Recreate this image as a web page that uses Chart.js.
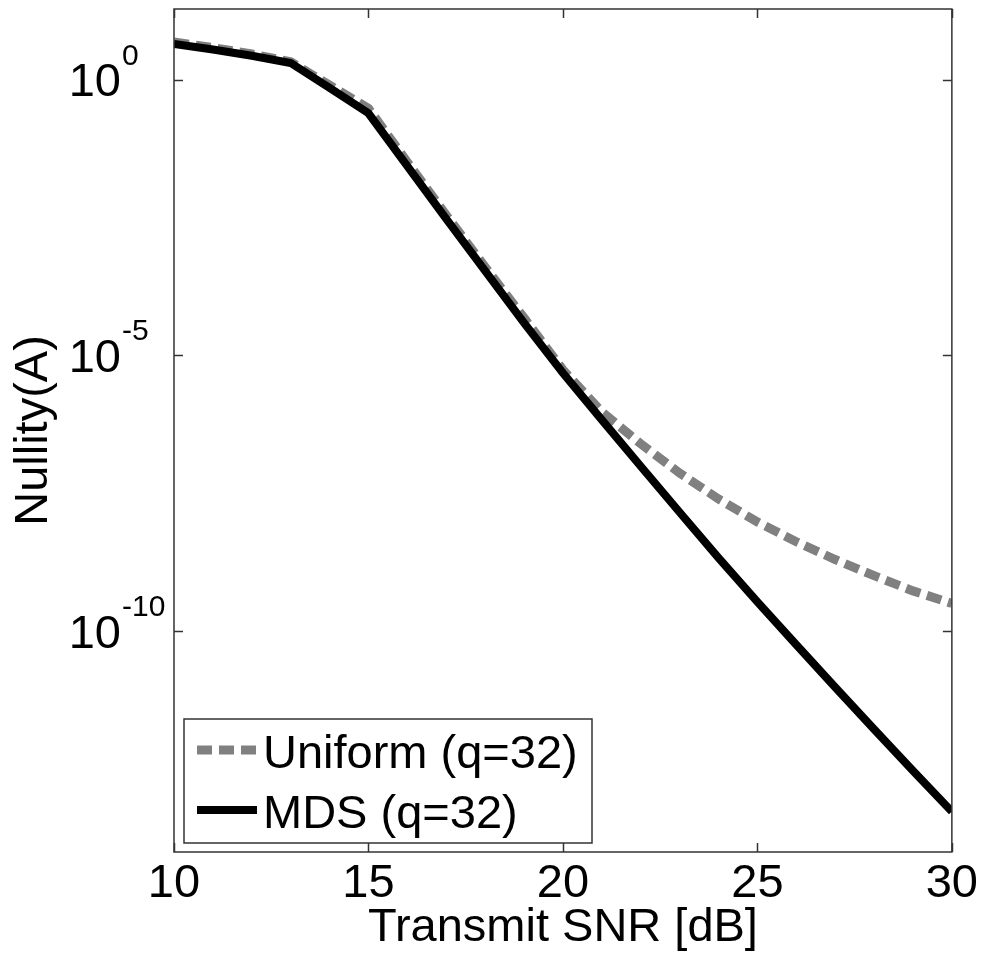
<!DOCTYPE html>
<html>
<head>
<meta charset="utf-8">
<title>Nullity(A) vs Transmit SNR</title>
<script src="https://cdn.jsdelivr.net/npm/chart.js@4.4.1/dist/chart.umd.min.js"></script>
<style>
  html, body { margin: 0; padding: 0; background: #ffffff; }
  #wrap { width: 982px; height: 956px; }
</style>
</head>
<body>
<div id="wrap"><canvas id="c" width="982" height="956"></canvas></div>
<script>
// Transmit SNR grid (dB)
const snrDb = [10, 11, 12, 13, 14, 15, 16, 17, 18, 19, 20, 21, 22, 23, 24, 25, 26, 27, 28, 29, 30];

// Nullity(A) for the uniform quantizer, q = 32
const uniformQ32 = [4.8, 3.8, 2.9, 2.1, 0.79, 0.30, 3.2e-2, 3.5e-3, 4.0e-4, 4.8e-5, 5.5e-6,
                    9.5e-7, 2.5e-7, 7.4e-8, 2.5e-8, 9.6e-9, 4.2e-9, 2.0e-9, 1.02e-9, 5.4e-10, 3.2e-10];

// Nullity(A) for the MDS design, q = 32
const mdsQ32 = [4.4, 3.5, 2.7, 2.0, 0.71, 0.245, 2.7e-2, 3.0e-3, 3.4e-4, 3.9e-5, 4.8e-6,
                6.8e-7, 9.8e-8, 1.44e-8, 2.14e-9, 3.4e-10, 5.7e-11, 9.7e-12, 1.68e-12, 2.97e-13, 5.4e-14];

const seriesNames = ['Uniform (q=32)', 'MDS (q=32)'];

// Axis ticks
const xTickValues = [10, 15, 20, 25, 30];
const yTickValues = [1e0, 1e-5, 1e-10];
const yTickExponents = ['0', '-5', '-10'];

const FONT = '"Liberation Sans", Arial, Helvetica, sans-serif';
const FONT_SIZE = 47;

const toPoints = (ys) => snrDb.map((x, i) => ({ x: x, y: ys[i] }));

// Boxed axes with inward ticks, power-of-ten labels and an inset legend
const boxedAxes = {
  id: 'boxedAxes',
  afterDraw(chart) {
    const { ctx, chartArea: a, scales } = chart;
    const xs = scales.x, ys = scales.y;
    const tick = 9;
    ctx.save();

    // frame
    ctx.strokeStyle = '#333333';
    ctx.lineWidth = 1.5;
    ctx.strokeRect(a.left, a.top, a.right - a.left, a.bottom - a.top);

    // inward tick marks
    ctx.beginPath();
    xs.ticks.forEach(t => {
      const px = Math.round(xs.getPixelForValue(t.value)) + 0.5;
      ctx.moveTo(px, a.bottom); ctx.lineTo(px, a.bottom - tick);
      ctx.moveTo(px, a.top); ctx.lineTo(px, a.top + tick);
    });
    ys.ticks.forEach(t => {
      const py = Math.round(ys.getPixelForValue(t.value)) + 0.5;
      ctx.moveTo(a.left, py); ctx.lineTo(a.left + tick, py);
      ctx.moveTo(a.right, py); ctx.lineTo(a.right - tick, py);
    });
    ctx.stroke();

    // y labels: 10 with superscript exponent
    ctx.fillStyle = '#000000';
    ctx.textBaseline = 'alphabetic';
    ys.ticks.forEach((t, i) => {
      const py = ys.getPixelForValue(t.value);
      ctx.font = FONT_SIZE + 'px ' + FONT;
      ctx.textAlign = 'right';
      ctx.fillText('10', 121, py + 16.5);
      ctx.font = '30px ' + FONT;
      ctx.textAlign = 'left';
      ctx.fillText(yTickExponents[i], 122, py - 15);
    });

    // legend
    const lx = 184, ly = 719, lw = 408, lh = 124;
    ctx.fillStyle = '#ffffff';
    ctx.fillRect(lx, ly, lw, lh);
    ctx.strokeStyle = '#333333';
    ctx.lineWidth = 1.5;
    ctx.strokeRect(lx, ly, lw, lh);
    const rows = [750, 810];
    chart.data.datasets.forEach((ds, i) => {
      const y = rows[i];
      ctx.save();
      ctx.strokeStyle = ds.borderColor;
      ctx.lineWidth = ds.borderWidth;
      ctx.setLineDash(ds.borderDash || []);
      ctx.lineCap = 'butt';
      ctx.beginPath();
      ctx.moveTo(lx + 13, y);
      ctx.lineTo(lx + 73, y);
      ctx.stroke();
      ctx.restore();
      ctx.fillStyle = '#000000';
      ctx.font = FONT_SIZE + 'px ' + FONT;
      ctx.textAlign = 'left';
      ctx.textBaseline = 'alphabetic';
      ctx.fillText(ds.label, lx + 79, y + 18);
    });
    ctx.restore();
  }
};

new Chart(document.getElementById('c'), {
  type: 'line',
  data: {
    datasets: [
      {
        label: seriesNames[0],
        data: toPoints(uniformQ32),
        borderColor: '#808080',
        borderWidth: 9,
        borderDash: [15, 7],
        borderCapStyle: 'butt',
        pointRadius: 0,
        tension: 0,
        order: 2
      },
      {
        label: seriesNames[1],
        data: toPoints(mdsQ32),
        borderColor: '#000000',
        borderWidth: 8,
        borderCapStyle: 'butt',
        pointRadius: 0,
        tension: 0,
        order: 1
      }
    ]
  },
  options: {
    responsive: false,
    animation: false,
    devicePixelRatio: 1,
    layout: { padding: { left: 0, right: 30, top: 9, bottom: 0 } },
    plugins: {
      legend: { display: false },
      tooltip: { enabled: false }
    },
    scales: {
      x: {
        type: 'linear',
        min: 10,
        max: 30,
        afterBuildTicks: s => { s.ticks = xTickValues.map(v => ({ value: v })); },
        afterFit: s => { s.height = 104; },
        grid: { display: false, drawTicks: false },
        border: { display: false },
        ticks: {
          font: { family: FONT, size: FONT_SIZE },
          color: '#000000',
          padding: 4,
          maxRotation: 0,
          autoSkip: false
        },
        title: {
          display: true,
          text: 'Transmit SNR [dB]',
          font: { family: FONT, size: FONT_SIZE },
          color: '#000000',
          padding: { top: 0, bottom: 0 }
        }
      },
      y: {
        type: 'logarithmic',
        min: 1e-14,
        max: 19,
        afterBuildTicks: s => { s.ticks = yTickValues.map(v => ({ value: v })); },
        afterFit: s => { s.width = 174; },
        grid: { display: false, drawTicks: false },
        border: { display: false },
        ticks: { display: false },
        title: {
          display: true,
          text: 'Nullity(A)',
          font: { family: FONT, size: FONT_SIZE },
          color: '#000000',
          padding: { top: 6, bottom: 0 }
        }
      }
    }
  },
  plugins: [boxedAxes]
});
</script>
</body>
</html>
